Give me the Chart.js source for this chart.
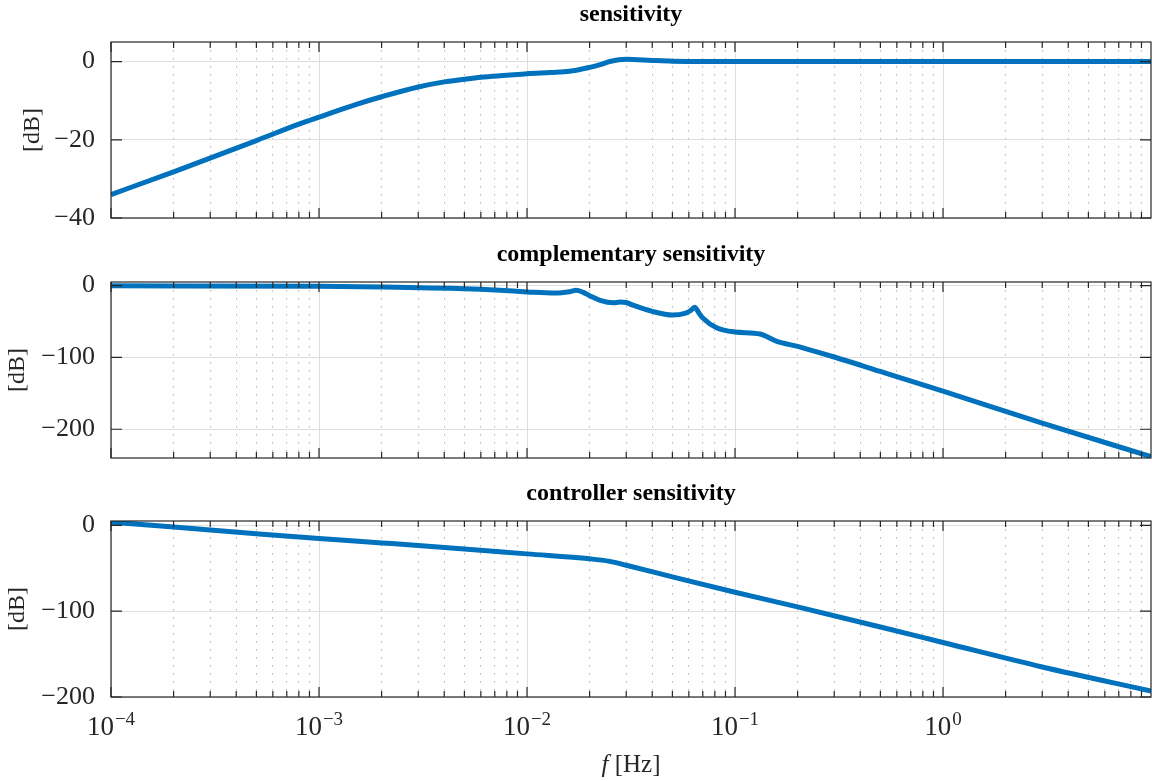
<!DOCTYPE html>
<html>
<head>
<meta charset="utf-8">
<script src="https://cdn.jsdelivr.net/npm/chart.js@4.4.1/dist/chart.umd.min.js"></script>
<style>
  html, body { margin: 0; padding: 0; background: #fff; }
  #wrap { position: relative; width: 1152px; height: 781px; }
  canvas { position: absolute; left: 0; }
</style>
</head>
<body>
<div id="wrap">
  <canvas id="sens" width="1152" height="240" style="top:0"></canvas>
  <canvas id="comp" width="1152" height="240" style="top:240px"></canvas>
  <canvas id="ctrl" width="1152" height="302" style="top:479px"></canvas>
</div>
<script>
// frequency axis [Hz]
const decades = [1e-4, 1e-3, 1e-2, 1e-1, 1];
const decadeBase = '10';
const decadeExp = ['\u22124', '\u22123', '\u22122', '\u22121', '0'];
const minorSteps = [2, 3, 4, 5, 6, 7, 8, 9];
const fMin = 1e-4, fMax = 10;

// sensitivity
const sFreq = [1e-4, 2e-4, 5e-4, 8e-4, 1e-3, 1.5e-3, 2e-3, 3e-3, 4e-3, 5e-3, 6e-3, 8e-3, 1e-2, 1.3e-2, 1.6e-2, 2e-2, 2.25e-2, 2.5e-2, 3e-2, 4e-2, 5e-2, 7e-2, 1e-1, 1, 10];
const sMag  = [-34, -28.2, -20.2, -16.0, -14.2, -11.0, -9.0, -6.5, -5.2, -4.5, -4.0, -3.5, -3.1, -2.8, -2.5, -1.5, -0.8, 0, 0.6, 0.3, 0.1, 0, 0, 0, 0];
const sTicks = [-40, -20, 0];

// complementary sensitivity
const tFreq = [1e-4, 1e-3, 2e-3, 5e-3, 7.4e-3, 1e-2, 1.37e-2, 1.6e-2, 1.72e-2, 1.85e-2, 2e-2, 2.25e-2, 2.6e-2, 2.8e-2, 3e-2, 3.2e-2, 4e-2, 5e-2, 5.8e-2, 6.1e-2, 6.4e-2, 6.7e-2, 7e-2, 8.2e-2, 1e-1, 1.32e-1, 1.59e-1, 2e-1, 2.2e-1, 3e-1, 5e-1, 1, 3, 10];
const tMag  = [-0.3, -1, -2, -4.5, -6.6, -8.8, -10.4, -8.5, -6.6, -9, -14, -20.6, -24.0, -23.0, -23.6, -26.8, -35.9, -41, -38.2, -35, -30.3, -38, -45, -59, -64.6, -67.4, -77.7, -84.7, -88, -99.4, -119.5, -147, -191.5, -238];
const tTicks = [-200, -100, 0];

// controller sensitivity
const cFreq = [1e-4, 2e-4, 3e-4, 5e-4, 1e-3, 2e-3, 5e-3, 1e-2, 2e-2, 2.5e-2, 3e-2, 5e-2, 1e-1, 2e-1, 5e-1, 1, 3, 10];
const cMag  = [3.5, -2, -5.5, -9.8, -15.4, -20.5, -27.5, -33.3, -39, -42, -46.5, -60, -78, -95, -118.5, -136.5, -165, -193];
const cTicks = [-200, -100, 0];

const xTicks = decades.flatMap(d => [d, ...minorSteps.map(k => +(d * k).toPrecision(3))]);
const isDecade = v => decades.some(d => Math.abs(v / d - 1) < 1e-9);
const fmtDb = v => (v < 0 ? '\u2212' + Math.abs(v) : String(v));

const SERIF = '"Liberation Serif", "Times New Roman", serif';
Chart.defaults.font.family = SERIF;
Chart.defaults.color = '#262626';

// MATLAB-like box with inward ticks, decade labels and the f [Hz] label
const frame = {
  id: 'frame',
  afterDraw(chart, args, opts) {
    const {ctx, chartArea: a, scales: {x, y}} = chart;
    ctx.save();
    ctx.strokeStyle = '#262626';
    ctx.lineWidth = 1.2;
    ctx.beginPath();
    x.ticks.forEach(t => {
      const px = x.getPixelForValue(t.value);
      const len = isDecade(t.value) ? 10 : 6;
      ctx.moveTo(px, a.bottom); ctx.lineTo(px, a.bottom - len);
      ctx.moveTo(px, a.top); ctx.lineTo(px, a.top + len);
    });
    y.ticks.forEach(t => {
      const py = y.getPixelForValue(t.value);
      ctx.moveTo(a.left, py); ctx.lineTo(a.left + 11, py);
      ctx.moveTo(a.right, py); ctx.lineTo(a.right - 11, py);
    });
    ctx.stroke();
    ctx.strokeRect(a.left, a.top, a.right - a.left, a.bottom - a.top);
    if (opts.xLabel) {
      ctx.fillStyle = '#262626';
      ctx.textBaseline = 'alphabetic';
      ctx.textAlign = 'left';
      const bf = '27px ' + SERIF, ef = '19px ' + SERIF;
      const base = a.bottom + 38;
      decades.forEach((d, i) => {
        const px = x.getPixelForValue(d);
        ctx.font = bf; const wb = ctx.measureText(decadeBase).width;
        ctx.font = ef; const we = ctx.measureText(decadeExp[i]).width;
        const x0 = px - (wb + we + 1) / 2;
        ctx.font = bf; ctx.fillText(decadeBase, x0, base);
        ctx.font = ef; ctx.fillText(decadeExp[i], x0 + wb + 1, base - 10);
      });
      const it = 'italic 25px ' + SERIF, rg = '25px ' + SERIF;
      ctx.font = it; const wf = ctx.measureText('f').width;
      ctx.font = rg; const wr = ctx.measureText(' [Hz]').width;
      const x0 = (a.left + a.right) / 2 - (wf + wr) / 2;
      ctx.font = it; ctx.fillText('f', x0, 293);
      ctx.font = rg; ctx.fillText(' [Hz]', x0 + wf, 293);
    }
    ctx.restore();
  }
};

function makeChart(id, title, freq, mag, yMin, yTicks, opt) {
  const setX = s => { s.ticks = xTicks.map(v => ({value: v})); };
  return new Chart(document.getElementById(id), {
    type: 'line',
    data: {
      datasets: [{
        data: freq.map((f, i) => ({x: f, y: mag[i]})),
        borderColor: '#0072BD',
        borderWidth: 5,
        pointRadius: 0,
        fill: false,
        cubicInterpolationMode: 'monotone'
      }]
    },
    options: {
      responsive: false,
      animation: false,
      events: [],
      devicePixelRatio: 1,
      layout: {padding: {left: 0, top: 0, right: 1, bottom: opt.padBottom}},
      plugins: {
        legend: {display: false},
        tooltip: {enabled: false},
        title: {
          display: true, text: title, fullSize: false, color: '#000',
          font: {size: 24, weight: 'bold', lineHeight: 1},
          padding: {top: 3, bottom: 15}
        },
        frame: {xLabel: opt.xLabel}
      },
      scales: {
        x: {
          type: 'logarithmic', min: fMin, max: fMax, position: 'bottom',
          afterBuildTicks: setX,
          afterFit: s => { s.height = opt.xHeight; s.paddingLeft = 0; s.paddingRight = 0; },
          ticks: {display: false},
          grid: {color: c => (c.tick && isDecade(c.tick.value) ? '#dedede' : 'rgba(0,0,0,0)'), lineWidth: 1, drawTicks: false},
          border: {display: false}
        },
        xm: {
          type: 'logarithmic', min: fMin, max: fMax, position: 'bottom',
          afterBuildTicks: setX,
          afterFit: s => { s.height = 0; s.paddingLeft = 0; s.paddingRight = 0; },
          ticks: {display: false},
          grid: {color: c => (c.tick && !isDecade(c.tick.value) ? '#b0b0b0' : 'rgba(0,0,0,0)'), lineWidth: 1, drawTicks: false},
          border: {display: false, dash: [1.5, 6.5]}
        },
        y: {
          min: yMin, max: 5,
          afterBuildTicks: s => { s.ticks = yTicks.map(v => ({value: v})); },
          afterFit: s => { s.width = 111; s.paddingTop = 0; s.paddingBottom = 0; },
          ticks: {padding: 16, font: {size: 26}, callback: v => fmtDb(v)},
          grid: {color: '#dedede', lineWidth: 1, drawTicks: false},
          border: {display: false},
          title: {display: true, text: '[dB]', font: {size: 24}, padding: {top: opt.yTitlePad, bottom: 0}}
        }
      }
    },
    plugins: [frame]
  });
}

makeChart('sens', 'sensitivity', sFreq, sMag, -40, sTicks, {padBottom: 22, xHeight: 0, xLabel: false, yTitlePad: 18.6});
makeChart('comp', 'complementary sensitivity', tFreq, tMag, -240, tTicks, {padBottom: 22, xHeight: 0, xLabel: false, yTitlePad: 3.6});
makeChart('ctrl', 'controller sensitivity', cFreq, cMag, -200, cTicks, {padBottom: 0, xHeight: 84, xLabel: true, yTitlePad: 3.6});
</script>
</body>
</html>
